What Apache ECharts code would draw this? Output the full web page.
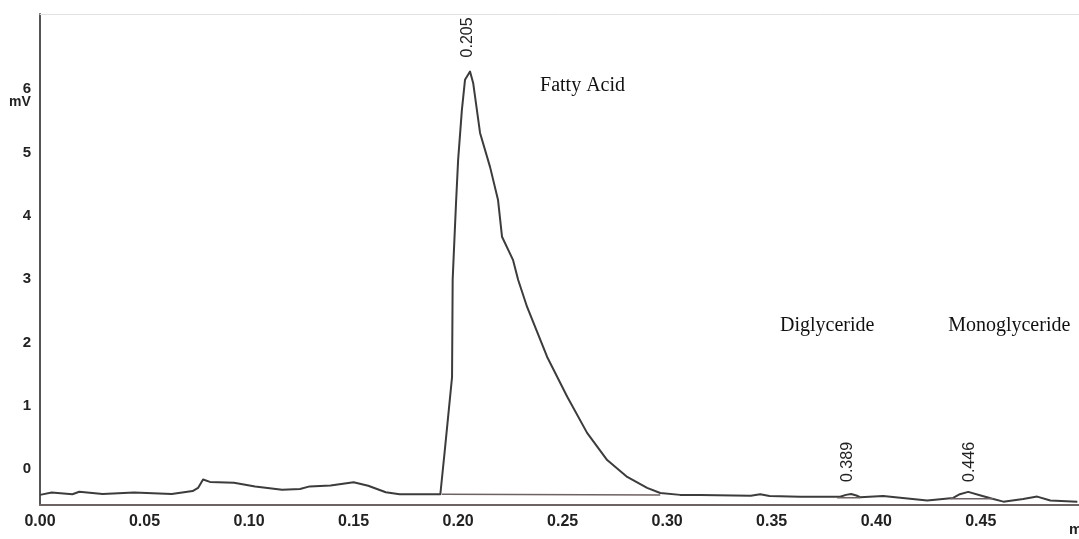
<!DOCTYPE html>
<html>
<head>
<meta charset="utf-8">
<title>Chromatogram</title>
<script src="https://cdn.jsdelivr.net/npm/echarts@6/dist/echarts.min.js"></script>
<style>
  html, body { margin: 0; padding: 0; background: #fff; }
  #chart { width: 1079px; height: 539px; }
</style>
</head>
<body>
<div id="chart"></div>
<script>
// retention time (min) and detector signal (mV)
const retentionTime = [
  0.000, 0.0056, 0.0155, 0.0188, 0.030, 0.045, 0.063, 0.073, 0.0756, 0.078,
  0.0813, 0.0928, 0.1029, 0.1158, 0.1244, 0.129, 0.139, 0.150, 0.157, 0.1654,
  0.172, 0.1915, 0.1922, 0.1938, 0.1971, 0.1974, 0.1978, 0.199, 0.200, 0.2018,
  0.2033, 0.2057, 0.2072, 0.2105, 0.2153, 0.2191, 0.221, 0.2263, 0.2287, 0.233,
  0.2426, 0.2522, 0.2617, 0.2713, 0.2809, 0.2904, 0.2967, 0.3062, 0.3158, 0.340,
  0.3445, 0.349, 0.3636, 0.3828, 0.3855, 0.388, 0.3905, 0.3923, 0.4033, 0.4244,
  0.4368, 0.440, 0.444, 0.450, 0.456, 0.4608, 0.4703, 0.477, 0.4833, 0.4962
];
const signalMv = [
  -0.41, -0.374, -0.40, -0.36, -0.395, -0.374, -0.395, -0.35, -0.30, -0.167,
  -0.205, -0.22, -0.276, -0.33, -0.316, -0.276, -0.26, -0.21, -0.265, -0.368,
  -0.40, -0.40, -0.395, 0.35, 1.45, 2.99, 3.30, 4.20, 4.88, 5.67,
  6.15, 6.28, 6.10, 5.31, 4.77, 4.25, 3.67, 3.30, 2.99, 2.56,
  1.77, 1.14, 0.57, 0.14, -0.126, -0.30, -0.38, -0.41, -0.41, -0.425,
  -0.40, -0.427, -0.44, -0.44, -0.41, -0.395, -0.42, -0.447, -0.427, -0.50,
  -0.458, -0.40, -0.363, -0.42, -0.474, -0.517, -0.474, -0.437, -0.50, -0.517
];

// integration baselines drawn under each peak: [startTime, startMv, endTime, endMv]
const baselineSegments = [
  [0.1922, -0.40, 0.2967, -0.41],
  [0.3813, -0.455, 0.3923, -0.455],
  [0.4354, -0.47, 0.456, -0.47]
];

// retention-time labels printed above peaks
const peakTimes = ["0.205", "0.389", "0.446"];
const peakLabelAt = [[0.2043, 6.82], [0.3862, 0.11], [0.4445, 0.11]];

// compound names
const compoundNames = ["Fatty Acid", "Diglyceride", "Monoglyceride"];
const compoundAt = [[0.2392, 6.05], [0.354, 2.26], [0.4344, 2.26]];

const xTicks = [0, 0.05, 0.1, 0.15, 0.2, 0.25, 0.3, 0.35, 0.4, 0.45];
const yTicks = [0, 1, 2, 3, 4, 5, 6];

const traceColor = "#3c3c3c";

const chart = echarts.init(document.getElementById("chart"));

const traceData = retentionTime.map((t, i) => [t, signalMv[i]]);

const markData = [];
peakTimes.forEach((txt, i) => {
  markData.push({
    coord: peakLabelAt[i],
    label: {
      show: true, formatter: txt, rotate: 90, position: "inside",
      fontFamily: "Liberation Sans, Arial, sans-serif", fontSize: 16,
      color: "#222", align: "center", verticalAlign: "middle"
    }
  });
});
compoundNames.forEach((txt, i) => {
  markData.push({
    coord: compoundAt[i],
    label: {
      show: true, formatter: txt, position: "inside",
      fontFamily: "Liberation Serif, Times New Roman, serif", fontSize: 20,
      color: "#111", align: "left", verticalAlign: "middle"
    }
  });
});

const series = [
  {
    type: "line",
    data: traceData,
    showSymbol: false,
    smooth: false,
    lineStyle: { color: traceColor, width: 2, join: "round" },
    silent: true,
    animation: false,
    markPoint: {
      symbol: "circle",
      symbolSize: 0,
      silent: true,
      data: markData
    }
  }
];
baselineSegments.forEach((s) => {
  series.push({
    type: "line",
    data: [[s[0], s[1]], [s[2], s[3]]],
    showSymbol: false,
    lineStyle: { color: "#6e6262", width: 1.5 },
    silent: true,
    animation: false
  });
});

const tickFont = {
  fontFamily: "Liberation Sans, Arial, sans-serif",
  fontWeight: "bold",
  color: "#222"
};

chart.setOption({
  animation: false,
  grid: { left: 40, right: 0, top: 14, bottom: 34 },
  xAxis: [
    {
      type: "value",
      min: 0,
      max: 0.497,
      interval: 0.05,
      axisLine: { show: true, onZero: false, lineStyle: { color: "#6e6464", width: 2 } },
      axisTick: { show: false },
      splitLine: { show: false },
      axisLabel: {
        ...tickFont,
        fontSize: 16,
        margin: 9,
        customValues: xTicks,
        formatter: (v) => v.toFixed(2)
      }
    },
    {
      type: "value",
      position: "top",
      min: 0,
      max: 0.497,
      axisLine: { show: true, onZero: false, lineStyle: { color: "#e2e2e2", width: 1 } },
      axisTick: { show: false },
      axisLabel: { show: false },
      splitLine: { show: false }
    }
  ],
  yAxis: {
    type: "value",
    min: -0.57,
    max: 7.19,
    axisLine: { show: true, onZero: false, lineStyle: { color: "#555", width: 2 } },
    axisTick: { show: false },
    splitLine: { show: false },
    axisLabel: {
      ...tickFont,
      fontSize: 15,
      margin: 9,
      customValues: yTicks
    }
  },
  series: series
});

// unit label under the top tick, and the clipped "min" at the far right
const unitPos = chart.convertToPixel({ yAxisIndex: 0 }, 6);
chart.setOption({
  graphic: [
    {
      type: "text",
      left: 9,
      top: unitPos + 6,
      style: {
        text: "mV",
        fontFamily: "Liberation Sans, Arial, sans-serif",
        fontWeight: "bold",
        fontSize: 14,
        fill: "#222"
      }
    },
    {
      type: "text",
      left: 1069,
      top: 522,
      style: {
        text: "min",
        fontFamily: "Liberation Sans, Arial, sans-serif",
        fontWeight: "bold",
        fontSize: 15,
        fill: "#222"
      }
    }
  ]
});

window.addEventListener("resize", () => chart.resize());
</script>
</body>
</html>
